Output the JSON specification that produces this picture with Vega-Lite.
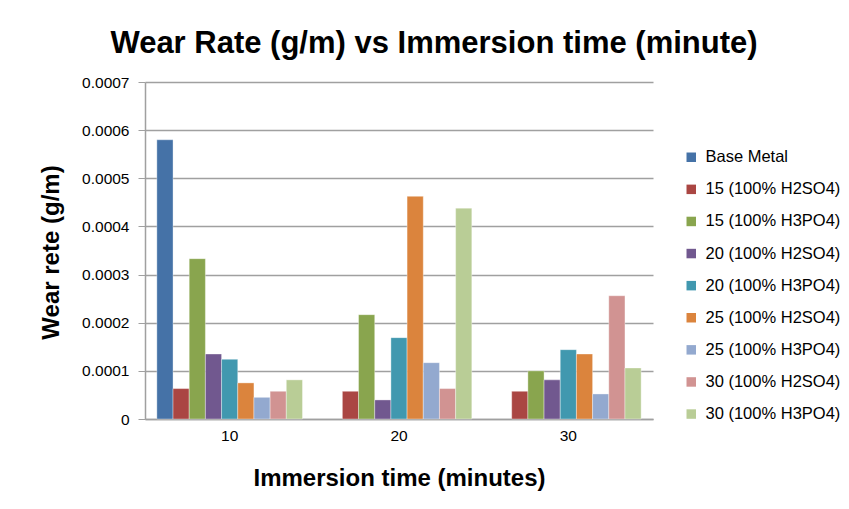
{
  "$schema": "https://vega.github.io/schema/vega-lite/v6.json",
  "autosize": {"type": "none"},
  "padding": {"left": 145, "top": 82, "right": 196, "bottom": 90},
  "width": 508,
  "height": 337,
  "background": "white",
  "title": {
    "text": "Wear Rate (g/m) vs Immersion time (minute)",
    "font": "Liberation Sans",
    "fontSize": 31,
    "fontWeight": "bold",
    "color": "#000000",
    "anchor": "middle",
    "dx": 35,
    "offset": 15
  },
  "data": {
    "values": [
      {"time": "10", "series": "Base Metal", "value": 0.00058},
      {"time": "10", "series": "15 (100% H2SO4)", "value": 0.0000632},
      {"time": "10", "series": "15 (100% H3PO4)", "value": 0.000333},
      {"time": "10", "series": "20 (100% H2SO4)", "value": 0.000135},
      {"time": "10", "series": "20  (100% H3PO4)", "value": 0.000124},
      {"time": "10", "series": "25 (100% H2SO4)", "value": 0.000075},
      {"time": "10", "series": "25  (100% H3PO4)", "value": 0.000045},
      {"time": "10", "series": "30 (100% H2SO4)", "value": 0.0000576},
      {"time": "10", "series": "30  (100% H3PO4)", "value": 0.0000813},
      {"time": "20", "series": "15 (100% H2SO4)", "value": 0.0000576},
      {"time": "20", "series": "15 (100% H3PO4)", "value": 0.0002167},
      {"time": "20", "series": "20 (100% H2SO4)", "value": 0.0000396},
      {"time": "20", "series": "20  (100% H3PO4)", "value": 0.000169},
      {"time": "20", "series": "25 (100% H2SO4)", "value": 0.0004625},
      {"time": "20", "series": "25  (100% H3PO4)", "value": 0.000117},
      {"time": "20", "series": "30 (100% H2SO4)", "value": 0.0000632},
      {"time": "20", "series": "30  (100% H3PO4)", "value": 0.000438},
      {"time": "30", "series": "15 (100% H2SO4)", "value": 0.0000576},
      {"time": "30", "series": "15 (100% H3PO4)", "value": 0.0001},
      {"time": "30", "series": "20 (100% H2SO4)", "value": 0.0000813},
      {"time": "30", "series": "20  (100% H3PO4)", "value": 0.000144},
      {"time": "30", "series": "25 (100% H2SO4)", "value": 0.000135},
      {"time": "30", "series": "25  (100% H3PO4)", "value": 0.000052},
      {"time": "30", "series": "30 (100% H2SO4)", "value": 0.000256},
      {"time": "30", "series": "30  (100% H3PO4)", "value": 0.000106}
    ]
  },
  "mark": {"type": "bar", "stroke": "white", "strokeWidth": 0.6, "strokeOpacity": 0.6},
  "encoding": {
    "x": {
      "field": "time",
      "type": "nominal",
      "scale": {"paddingInner": 0.14, "paddingOuter": 0.07},
      "axis": {
        "title": "Immersion time (minutes)",
        "titleFont": "Liberation Sans",
        "titleFontSize": 24,
        "titleFontWeight": "bold",
        "titleColor": "#000000",
        "titlePadding": 23,
        "labelAngle": 0,
        "labelFont": "Liberation Sans",
        "labelFontSize": 15.5,
        "labelColor": "#000000",
        "labelPadding": 9,
        "ticks": false,
        "domainColor": "#A0A0A0",
        "domainWidth": 1.5
      }
    },
    "xOffset": {
      "field": "series",
      "type": "nominal",
      "sort": ["Base Metal", "15 (100% H2SO4)", "15 (100% H3PO4)", "20 (100% H2SO4)", "20  (100% H3PO4)", "25 (100% H2SO4)", "25  (100% H3PO4)", "30 (100% H2SO4)", "30  (100% H3PO4)"],
      "scale": {"paddingInner": 0, "paddingOuter": 0}
    },
    "y": {
      "field": "value",
      "type": "quantitative",
      "scale": {"domain": [0, 0.0007], "nice": false},
      "axis": {
        "title": "Wear rete (g/m)",
        "titleFont": "Liberation Sans",
        "titleFontSize": 24,
        "titleFontWeight": "bold",
        "titleColor": "#000000",
        "titleX": -87,
        "titleY": 170,
        "titleAngle": -90,
        "titleAlign": "center",
        "titleBaseline": "alphabetic",
        "values": [0, 0.0001, 0.0002, 0.0003, 0.0004, 0.0005, 0.0006, 0.0007],
        "labelExpr": "datum.value == 0 ? '0' : format(datum.value, '.4f')",
        "labelFont": "Liberation Sans",
        "labelFontSize": 15.5,
        "labelColor": "#000000",
        "labelPadding": 9,
        "tickSize": 7,
        "tickColor": "#A0A0A0",
        "domainColor": "#A0A0A0",
        "domainWidth": 1.5,
        "grid": true,
        "gridColor": "#A0A0A0",
        "gridWidth": 1.5
      }
    },
    "color": {
      "field": "series",
      "type": "nominal",
      "sort": ["Base Metal", "15 (100% H2SO4)", "15 (100% H3PO4)", "20 (100% H2SO4)", "20  (100% H3PO4)", "25 (100% H2SO4)", "25  (100% H3PO4)", "30 (100% H2SO4)", "30  (100% H3PO4)"],
      "scale": {
        "domain": ["Base Metal", "15 (100% H2SO4)", "15 (100% H3PO4)", "20 (100% H2SO4)", "20  (100% H3PO4)", "25 (100% H2SO4)", "25  (100% H3PO4)", "30 (100% H2SO4)", "30  (100% H3PO4)"],
        "range": ["#4572A7", "#AA4643", "#89A54E", "#71588F", "#4198AF", "#DB843D", "#93A9CF", "#D19392", "#B9CD96"]
      },
      "legend": {
        "title": null,
        "orient": "none",
        "legendX": 538,
        "legendY": 67,
        "symbolType": "square",
        "symbolSize": 90,
        "symbolStrokeWidth": 0,
        "labelFont": "Liberation Sans",
        "labelFontSize": 16.5,
        "labelColor": "#000000",
        "labelOffset": 6,
        "rowPadding": 15.1,
        "labelLimit": 200
      }
    }
  },
  "config": {"view": {"stroke": null}}
}
